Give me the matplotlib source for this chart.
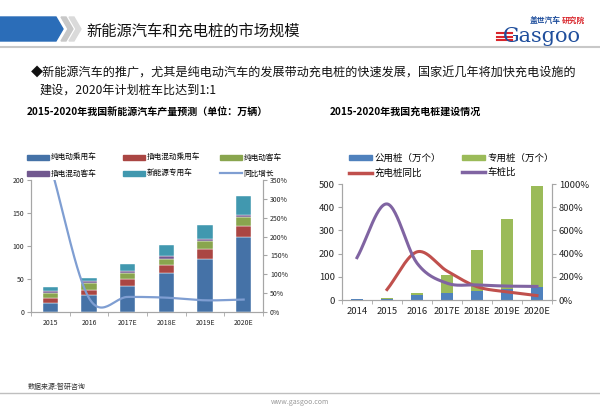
import numpy as np
import matplotlib.pyplot as plt
from matplotlib.patches import Polygon, Patch
from matplotlib.lines import Line2D
from matplotlib.ticker import FuncFormatter

plt.rcParams['font.family'] = ['Noto Sans CJK SC', 'DejaVu Sans']

# 左图：新能源汽车产量（万辆）
years_l = ['2015', '2016', '2017E', '2018E', '2019E', '2020E']
bev_car = [14.3, 26.5, 39.5, 59, 81, 114]
phev_car = [6.2, 7.5, 10, 12, 14.5, 17]
bev_bus = [8.8, 10, 10, 10, 12, 13.5]
phev_bus = [2.5, 2.5, 2.5, 3.5, 3, 2.5]
special = [5.9, 5.2, 10, 17.5, 21.5, 29]
growth = [3.9, 0.37, 0.40, 0.38, 0.31, 0.33]

# 右图：充电桩（万个）
years_r = ['2014', '2015', '2016', '2017E', '2018E', '2019E', '2020E']
public = [3, 5, 20, 29, 38, 46, 57]
private = [0.5, 3, 11, 78, 179, 301, 433]
pile_growth = [np.nan, 0.9, 4.15, 2.5, 1.15, 0.7, 0.38]
car_ratio = [3.65, 8.28, 3.18, 1.45, 1.3, 1.2, 1.17]

W, H = 600, 408
AX_GRAY = '#A6A6A6'


def smooth(x, y, n=30):
    # Catmull-Rom 平滑（类似 Excel 平滑线）
    x = np.asarray(x, float)
    y = np.asarray(y, float)
    m = np.gradient(y, x)
    xs, ys = [], []
    for i in range(len(x) - 1):
        t = np.linspace(0, 1, n)
        h = x[i + 1] - x[i]
        h00 = 2 * t**3 - 3 * t**2 + 1
        h10 = t**3 - 2 * t**2 + t
        h01 = -2 * t**3 + 3 * t**2
        h11 = t**3 - t**2
        xs.append(x[i] + t * h)
        ys.append(h00 * y[i] + h10 * h * m[i] + h01 * y[i + 1] + h11 * h * m[i + 1])
    return np.concatenate(xs), np.concatenate(ys)


def px_axes(fig, x0, y0, x1, y1):
    return fig.add_axes([x0 / W, 1 - y1 / H, (x1 - x0) / W, (y1 - y0) / H])


def style(ax, ax2, ncat, fs):
    for a in (ax, ax2):
        a.spines['top'].set_visible(False)
        for s in ('left', 'right', 'bottom'):
            a.spines[s].set_color(AX_GRAY)
        a.tick_params(axis='y', colors=AX_GRAY, labelcolor='#222222', labelsize=fs, length=3, width=0.8, pad=2)
    ax.tick_params(axis='x', length=0, labelsize=fs, labelcolor='#222222', pad=5)
    ax.set_xticks(np.arange(ncat + 1) - 0.5, minor=True)
    ax.tick_params(axis='x', which='minor', length=3, color=AX_GRAY)
    ax.set_xlim(-0.5, ncat - 0.5)


def col_legend(fig, handles, labels, x, y, fs, hl, hh, pad, sp):
    fig.legend(handles, labels, loc='upper left', bbox_to_anchor=(x / W, 1 - y / H),
               frameon=False, fontsize=fs, handlelength=hl, handleheight=hh,
               handletextpad=pad, labelspacing=sp, borderaxespad=0, borderpad=0)


fig = plt.figure(figsize=(6, 4.08), dpi=100)

# 背景和装饰
bg = fig.add_axes([0, 0, 1, 1], zorder=-1)
bg.set_xlim(0, W)
bg.set_ylim(H, 0)
bg.axis('off')
bg.add_patch(Polygon([(0, 17), (56, 17), (63, 29), (56, 41), (0, 41)], color='#2B6DB8'))
for dx, c in ((61, '#C8C8C8'), (69, '#DADADA')):
    bg.add_patch(Polygon([(dx, 17), (dx + 5, 17), (dx + 12, 29), (dx + 5, 41), (dx, 41), (dx + 7, 29)], color=c))
bg.text(86, 31, '新能源汽车和充电桩的市场规模', fontsize=11, va='center', color='#111111')
bg.plot([0, 600], [47, 47], color='#C8C8C8', lw=1.5)
# logo
for yy in (33, 36.5, 40):
    bg.plot([497, 512], [yy, yy], color='#D9262C', lw=1.5)
bg.text(503, 37, 'Gasgoo', fontsize=15, family='DejaVu Serif', color='#1F4E9C', va='center')
bg.text(530, 20, '盖世汽车', fontsize=5.6, color='#1F4E9C', va='center', weight='bold')
bg.text(562, 20, '研究院', fontsize=5.6, color='#D9262C', va='center', weight='bold')

bg.text(31, 73, '◆新能源汽车的推广，尤其是纯电动汽车的发展带动充电桩的快速发展，国家近几年将加快充电设施的',
        fontsize=8.7, va='center', color='#111111')
bg.text(40, 90, '建设，2020年计划桩车比达到1:1', fontsize=8.7, va='center', color='#111111')

bg.text(27, 112, '2015-2020年我国新能源汽车产量预测（单位：万辆）', fontsize=7.2, weight='bold', va='center')
bg.text(330, 112, '2015-2020年我国充电桩建设情况', fontsize=7.2, weight='bold', va='center')

bg.text(28, 387, '数据来源:智研咨询', fontsize=5, va='center', color='#333333')
bg.plot([0, 600], [393, 393], color='#BFBFBF', lw=1)
bg.text(300, 402, 'www.gasgoo.com', fontsize=5, va='center', ha='center', color='#999999')

pct = FuncFormatter(lambda v, p: f'{v * 100:.0f}%')

# ---- 左图 ----
ax = px_axes(fig, 31, 180, 263, 312)
ax2 = ax.twinx()
xl = np.arange(len(years_l))
series_l = [bev_car, phev_car, bev_bus, phev_bus, special]
names_l = ['纯电动乘用车', '插电混动乘用车', '纯电动客车', '插电混动客车', '新能源专用车']
colors_l = ['#4572A7', '#AA4643', '#89A54E', '#71588F', '#4198AF']
bottom = np.zeros(len(years_l))
for vals, c in zip(series_l, colors_l):
    ax.bar(xl, vals, 0.39, bottom=bottom, color=c, edgecolor='white', linewidth=0.3)
    bottom += np.array(vals)
sx, sy = smooth(xl, growth)
ax2.plot(sx, sy, color='#7F9ED2', lw=1.6)
ax.set_ylim(0, 200)
ax.set_yticks([0, 50, 100, 150, 200])
ax2.set_ylim(0, 3.5)
ax2.set_yticks(np.arange(0, 3.51, 0.5))
ax2.yaxis.set_major_formatter(pct)
ax.set_xticks(xl)
ax.set_xticklabels(years_l)
style(ax, ax2, len(years_l), 5)

hl = [Patch(color=c) for c in colors_l] + [Line2D([], [], color='#7F9ED2', lw=1.6)]
ll = names_l + ['同比增长']
for k, x0 in enumerate((27, 123, 220)):
    col_legend(fig, [hl[k], hl[k + 3]], [ll[k], ll[k + 3]], x0, 154, 5.5, 2.9, 0.6, 0.2, 1.05)

# ---- 右图 ----
bx = px_axes(fig, 342, 184, 552, 300)
bx2 = bx.twinx()
xr = np.arange(len(years_r))
bx.bar(xr, public, 0.39, color='#4F81BD')
bx.bar(xr, private, 0.39, bottom=public, color='#9BBB59')
ok = ~np.isnan(pile_growth)
rx, ry = smooth(xr[ok], np.array(pile_growth)[ok])
bx2.plot(rx, ry, color='#C0504D', lw=2.2)
px_, py_ = smooth(xr, car_ratio)
bx2.plot(px_, py_, color='#8064A2', lw=2.2)
bx.set_ylim(0, 500)
bx.set_yticks(np.arange(0, 501, 100))
bx2.set_ylim(0, 10)
bx2.set_yticks(np.arange(0, 10.1, 2))
bx2.yaxis.set_major_formatter(pct)
bx.set_xticks(xr)
bx.set_xticklabels(years_r)
style(bx, bx2, len(years_r), 6.8)

hr = [Patch(color='#4F81BD'), Patch(color='#9BBB59'),
      Line2D([], [], color='#C0504D', lw=2.5), Line2D([], [], color='#8064A2', lw=2.5)]
lr = ['公用桩（万个）', '专用桩（万个）', '充电桩同比', '车桩比']
col_legend(fig, [hr[0], hr[2]], [lr[0], lr[2]], 349, 154, 6.8, 2.4, 0.45, 0.3, 0.5)
col_legend(fig, [hr[1], hr[3]], [lr[1], lr[3]], 462, 154, 6.8, 2.4, 0.45, 0.3, 0.5)

fig.savefig('out.png', dpi=100)
